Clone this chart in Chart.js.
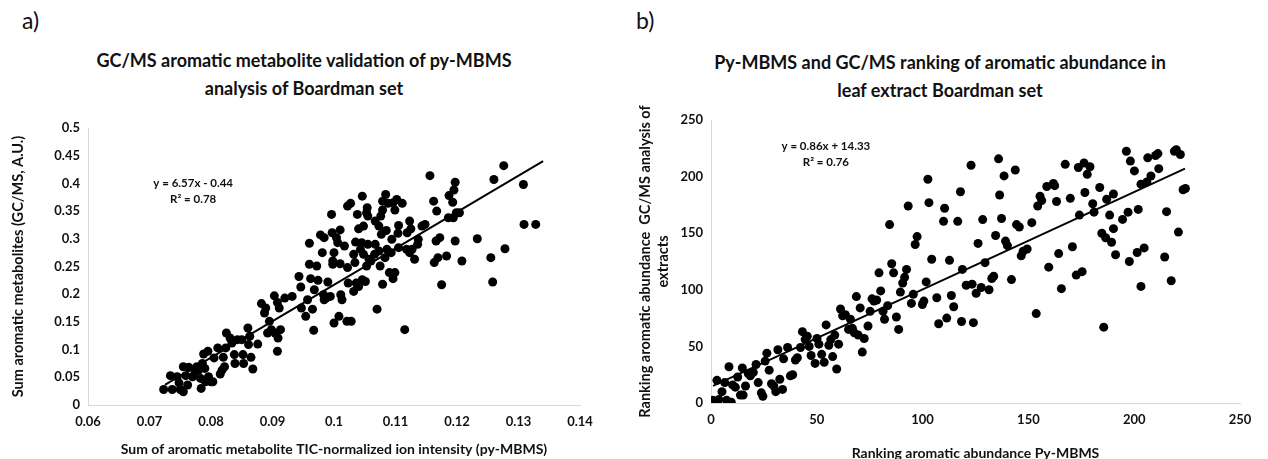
<!DOCTYPE html>
<html>
<head>
<meta charset="utf-8">
<script src="https://cdn.jsdelivr.net/npm/chart.js@4.4.1/dist/chart.umd.min.js"></script>
<style>
  body { margin: 0; background: #fff; width: 1268px; height: 459px; overflow: hidden; position: relative; font-family: Lato, "Open Sans", sans-serif; color: #111; }
  .panel { position: absolute; top: 0; width: 634px; height: 459px; }
  .tag { position: absolute; top: 6px; font-size: 23px; }
  .title { position: absolute; width: 560px; text-align: center; font-weight: bold; font-size: 18px; line-height: 28px; }
</style>
</head>
<body>
<div class="tag" style="left:22px">a)</div>
<div class="tag" style="left:636px">b)</div>
<div class="title" style="left:24px;top:46px">GC/MS aromatic metabolite validation of py-MBMS<br>analysis of Boardman set</div>
<div class="title" style="left:660px;top:48px">Py-MBMS and GC/MS ranking of aromatic abundance in<br>leaf extract Boardman set</div>
<div class="panel" style="left:0"><canvas id="chartA" width="634" height="459"></canvas></div>
<div class="panel" style="left:634px"><canvas id="chartB" width="634" height="459"></canvas></div>
<script>
// a) py-MBMS TIC-normalized sum vs GC/MS sum
const pyMbmsSum = [
  0.0723, 0.0734, 0.0737, 0.0745, 0.0748, 0.0750, 0.0755, 0.0755, 0.0759, 0.0762,
  0.0764, 0.0770, 0.0774, 0.0777, 0.0780, 0.0783, 0.0784, 0.0786, 0.0788, 0.0790,
  0.0791, 0.0795, 0.0796, 0.0800, 0.0803, 0.0805, 0.0811, 0.0815, 0.0818, 0.0820,
  0.0822, 0.0824, 0.0825, 0.0831, 0.0834, 0.0838, 0.0839, 0.0843, 0.0850, 0.0852,
  0.0853, 0.0860, 0.0861, 0.0863, 0.0865, 0.0868, 0.0876, 0.0882, 0.0887, 0.0889,
  0.0892, 0.0895, 0.0898, 0.0903, 0.0904, 0.0908, 0.0909, 0.0908, 0.0911, 0.0913,
  0.0920, 0.0932, 0.0943, 0.0946, 0.0947, 0.0954, 0.0957, 0.0960, 0.0960, 0.0962,
  0.0965, 0.0967, 0.0968, 0.0972, 0.0974, 0.0978, 0.0981, 0.0983, 0.0984, 0.0984,
  0.0987, 0.0990, 0.0994, 0.0997, 0.0998, 0.0998, 0.1000, 0.1000, 0.1004, 0.1006,
  0.1008, 0.1010, 0.1011, 0.1013, 0.1017, 0.1021, 0.1022, 0.1023, 0.1028, 0.1032,
  0.1032, 0.1034, 0.1035, 0.1036, 0.1040, 0.1043, 0.1045, 0.1046, 0.1048, 0.1051,
  0.1053, 0.1055, 0.1057, 0.1060, 0.1066, 0.1070, 0.1067, 0.1073, 0.1075, 0.1077,
  0.1079, 0.1083, 0.1086, 0.1090, 0.1093, 0.1094, 0.1096, 0.1099, 0.1104, 0.1105,
  0.1115, 0.1118, 0.1119, 0.1123, 0.1127, 0.1131, 0.1136, 0.1137, 0.1163, 0.1166,
  0.1169, 0.1172, 0.1175, 0.1183, 0.1197, 0.1208, 0.1233, 0.1255, 0.1258, 0.1278,
  0.0996, 0.1022, 0.1027, 0.1038, 0.1046, 0.1048, 0.1054, 0.1053, 0.1055, 0.1067,
  0.1073, 0.1076, 0.1079, 0.1079, 0.1084, 0.1088, 0.1096, 0.1099, 0.1102, 0.1105,
  0.1111, 0.1123, 0.1156, 0.1162, 0.1167, 0.1186, 0.1187, 0.1195, 0.1197, 0.1193,
  0.1199, 0.1204, 0.1194, 0.1260, 0.1276, 0.1308, 0.1309, 0.1328, 0.1143, 0.1148,
  0.1040, 0.1085, 0.1010, 0.1125
];
const gcmsSum = [
  0.028, 0.053, 0.028, 0.051, 0.040, 0.028, 0.024, 0.069, 0.053, 0.036,
  0.068, 0.051, 0.060, 0.069, 0.063, 0.048, 0.030, 0.075, 0.092, 0.066,
  0.042, 0.097, 0.051, 0.042, 0.042, 0.085, 0.103, 0.056, 0.063, 0.086,
  0.069, 0.103, 0.130, 0.121, 0.112, 0.091, 0.075, 0.118, 0.118, 0.091,
  0.075, 0.139, 0.109, 0.124, 0.086, 0.065, 0.110, 0.183, 0.166, 0.175,
  0.130, 0.151, 0.136, 0.197, 0.130, 0.185, 0.121, 0.097, 0.175, 0.136,
  0.193, 0.196, 0.232, 0.213, 0.175, 0.160, 0.190, 0.292, 0.254, 0.228,
  0.173, 0.135, 0.208, 0.251, 0.225, 0.307, 0.275, 0.199, 0.302, 0.190,
  0.193, 0.222, 0.196, 0.311, 0.260, 0.254, 0.148, 0.275, 0.302, 0.293,
  0.160, 0.255, 0.199, 0.190, 0.287, 0.151, 0.248, 0.220, 0.151, 0.205,
  0.272, 0.257, 0.294, 0.220, 0.214, 0.281, 0.293, 0.226, 0.272, 0.223,
  0.251, 0.290, 0.263, 0.260, 0.272, 0.173, 0.290, 0.278, 0.251, 0.308,
  0.218, 0.266, 0.281, 0.239, 0.275, 0.299, 0.228, 0.239, 0.310, 0.284,
  0.136, 0.281, 0.311, 0.275, 0.281, 0.263, 0.290, 0.299, 0.257, 0.296,
  0.266, 0.302, 0.217, 0.269, 0.296, 0.260, 0.300, 0.266, 0.222, 0.282,
  0.344, 0.359, 0.364, 0.344, 0.377, 0.323, 0.356, 0.347, 0.341, 0.332,
  0.323, 0.341, 0.368, 0.352, 0.380, 0.364, 0.365, 0.352, 0.371, 0.324,
  0.364, 0.332, 0.414, 0.368, 0.350, 0.338, 0.378, 0.388, 0.402, 0.366,
  0.347, 0.347, 0.338, 0.407, 0.432, 0.398, 0.326, 0.326, 0.323, 0.326,
  0.318, 0.315, 0.316, 0.318
];
const trendA = { slope: 6.57, intercept: -0.44, from: 0.0725, to: 0.134 };
const xTicksA = [0.06, 0.07, 0.08, 0.09, 0.1, 0.11, 0.12, 0.13, 0.14];

// b) rankings
const rankPyMbms = [
  0.9, 2.8, 3.7, 5.2, 6.5, 7.4, 8.5, 9.6, 10.2, 11.5,
  12.6, 13.9, 14.8, 15.2, 16.3, 17.6, 18.6, 20, 21.3, 22.3,
  23.8, 24.5, 25.6, 26.4, 27.5, 28.6, 29.7, 30.6, 31.6, 32.5,
  33.8, 34.3, 36.2, 37.5, 38.6, 39.9, 40.8, 42.3, 43.2, 44.5,
  45.5, 46.4, 47.3, 49.2, 50.1, 51, 52.3, 53.5, 54.4, 55.7,
  56.6, 57.5, 58.5, 59.4, 60.3, 61.2, 62.2, 63.5, 65, 65.9,
  66.8, 67.7, 68.7, 69.6, 70.5, 71.5, 72.4, 74.2, 75.2, 76.1,
  77, 78.3, 79.4, 80.2, 81.3, 82, 83.5, 85.4, 86.3, 87.6,
  88.7, 89.5, 90.6, 91.5, 92.4, 94.7, 95.6, 96.5, 97.4, 99.9,
  100.6, 101.7, 104.3, 106.7, 107.6, 111.4, 112.7, 113.6, 114.7, 118.8,
  118.4, 120.6, 123.4, 124, 125.3, 126.2, 127.7, 129.5, 131.4, 132.7,
  133.6, 134.5, 139.2, 140.1, 142, 146.6, 147.5, 149.4, 153.7, 159.6,
  164.3, 165.6, 170.8, 172.6, 175.4, 184.7, 185.6, 186.5, 189.3, 191.2,
  197.7, 201.4, 203.2, 204.7, 214.4, 217.5, 220.9,
  84.4, 93.2, 102.5, 103, 110.4, 109.9, 116.6, 117.9, 122.9, 128.4,
  135.9, 136.4, 137.3, 138.5, 143.8, 144.4, 145.7, 151.6, 154.4, 155.5,
  156.3, 158.7, 161.8, 162.4, 163.3, 167.4, 169.8, 174.1, 173.6, 176.3,
  176.7, 177.8, 179.1, 180.4, 181, 183.7, 187, 188.4, 190.2, 190.2,
  194.5, 196.3, 197.1, 198.2, 200.1, 201.9, 203.2, 206, 206.4, 207.9,
  210.1, 211.2, 211.6, 215.3, 219, 219.9, 221.8, 223.1, 224.2
];
const rankGcms = [
  2.4, 20, 3, 10, 18, 2.4, 32, 0.6, 16, 14,
  23, 7, 31, 7, 15, 26, 24, 27, 34, 18,
  9, 6, 37, 44, 29, 17, 15, 10, 47, 21,
  12, 39, 49, 24, 25, 38, 40, 49, 63, 56,
  59, 50, 42, 35, 57, 52, 43, 36, 69, 51,
  56, 41, 60, 30, 52, 83, 77, 78, 65, 74,
  66, 62, 94, 60, 84, 45, 57, 68, 81, 92,
  90, 91, 115, 99, 81, 74, 86, 123, 115, 76,
  65, 98, 106, 111, 118, 88, 96, 140, 147, 87,
  90, 107, 127, 93, 70, 75, 126, 95, 85, 118,
  72, 104, 105, 71, 97, 141, 102, 124, 100, 110,
  112, 148, 143, 139, 109, 130, 134, 136, 79, 120,
  132, 101, 138, 113, 116, 150, 67, 146, 142, 131,
  125, 133, 103, 137, 129, 108, 151,
  157.6, 174, 197.7, 177, 172, 160.5, 160.5, 186.6, 210, 162,
  215.7, 183.7, 163, 200.6, 205.8, 157.6, 155.5, 159.3, 174, 182.6,
  178.8, 191.3, 194, 192, 178, 210.8, 180.8, 166, 208, 212,
  186, 202, 208.7, 176, 168.6, 190.4, 180, 166, 184.6, 154,
  162.2, 222.4, 168.6, 213.7, 205, 171, 193.3, 195.3, 216.6, 200.5,
  218.6, 220.3, 207, 169, 222.4, 223.8, 219.5, 188.4, 189.5
];
const trendB = { slope: 0.86, intercept: 14.33, from: 1, to: 224 };

const textColor = "#111";
const axisColor = "#d9d9d9";
const fontFamily = "Lato, 'Open Sans', sans-serif";

function points(xs, ys) {
  return xs.map((x, i) => ({ x: x, y: ys[i] }));
}

function trendPoints(t) {
  return [
    { x: t.from, y: t.slope * t.from + t.intercept },
    { x: t.to, y: t.slope * t.to + t.intercept },
  ];
}

// equation + R² label, placed in data coordinates
const equationLabel = {
  id: "equationLabel",
  afterDatasetsDraw(chart, args, opts) {
    const { ctx, scales } = chart;
    const px = scales.x.getPixelForValue(opts.x);
    const py = scales.y.getPixelForValue(opts.y);
    ctx.save();
    ctx.fillStyle = textColor;
    ctx.font = "bold 11.5px " + fontFamily;
    ctx.textAlign = "center";
    ctx.textBaseline = "middle";
    opts.lines.forEach((line, i) => ctx.fillText(line, px, py + i * 16));
    ctx.restore();
  },
};

function makeChart(id, cfg) {
  return new Chart(document.getElementById(id), {
    type: "scatter",
    data: {
      datasets: [
        {
          data: cfg.points,
          backgroundColor: "#000",
          borderWidth: 0,
          pointRadius: 4.5,
          pointHoverRadius: 4.5,
          order: 2,
        },
        {
          type: "line",
          data: cfg.trend,
          borderColor: "#000",
          borderWidth: 2,
          pointRadius: 0,
          fill: false,
          order: 1,
        },
      ],
    },
    options: {
      responsive: false,
      animation: false,
      events: [],
      layout: { padding: cfg.padding },
      plugins: {
        legend: { display: false },
        tooltip: { enabled: false },
        equationLabel: cfg.label,
      },
      scales: {
        x: {
          type: "linear",
          min: cfg.xMin,
          max: cfg.xMax,
          afterBuildTicks: cfg.xTicks ? (s) => { s.ticks = cfg.xTicks.map((v) => ({ value: v })); } : undefined,
          ticks: {
            stepSize: cfg.xStep,
            padding: 9,
            color: textColor,
            font: { family: fontFamily, size: 13, weight: "bold" },
            callback: (v) => String(+v.toFixed(4)),
          },
          grid: { display: false, drawTicks: false },
          border: { display: true, color: axisColor, width: 1 },
          title: {
            display: true,
            text: cfg.xTitle,
            color: textColor,
            font: { family: fontFamily, size: 14, weight: "bold" },
            padding: cfg.xTitlePad,
          },
          afterFit: (s) => { s.height = cfg.xHeight; },
        },
        y: {
          type: "linear",
          min: cfg.yMin,
          max: cfg.yMax,
          ticks: {
            stepSize: cfg.yStep,
            padding: 8,
            color: textColor,
            font: { family: fontFamily, size: 13, weight: "bold" },
            callback: (v) => String(+v.toFixed(4)),
          },
          grid: { display: false, drawTicks: false },
          border: { display: true, color: axisColor, width: 1 },
          title: {
            display: true,
            text: cfg.yTitle,
            color: textColor,
            font: { family: fontFamily, size: 14.5, weight: "bold", lineHeight: 1.25 },
            padding: cfg.yTitlePad,
          },
          afterFit: (s) => { s.width = cfg.yWidth; },
        },
      },
    },
    plugins: [equationLabel],
  });
}

makeChart("chartA", {
  points: points(pyMbmsSum, gcmsSum),
  trend: trendPoints(trendA),
  xMin: 0.06, xMax: 0.14, xStep: 0.01, xTicks: xTicksA,
  yMin: 0, yMax: 0.5, yStep: 0.05,
  xTitle: "Sum of aromatic metabolite TIC-normalized ion intensity (py-MBMS)",
  yTitle: "Sum aromatic metabolites (GC/MS, A.U.)",
  xTitlePad: { top: 0, bottom: 1 },
  yTitlePad: { top: 9, bottom: 0 },
  padding: { left: 0, right: 54, top: 128, bottom: 0 },
  xHeight: 54,
  yWidth: 88,
  label: { x: 0.0771, y: 0.4007, lines: ["y = 6.57x - 0.44", "R² = 0.78"] },
});

makeChart("chartB", {
  points: points(rankPyMbms, rankGcms),
  trend: trendPoints(trendB),
  xMin: 0, xMax: 250, xStep: 50,
  yMin: 0, yMax: 250, yStep: 50,
  xTitle: "Ranking aromatic abundance Py-MBMS",
  yTitle: ["Ranking aromatic abundance  GC/MS analysis of", "extracts"],
  xTitlePad: { top: 0, bottom: -3 },
  yTitlePad: { top: 2, bottom: 0 },
  padding: { left: 0, right: 28, top: 120, bottom: 0 },
  xHeight: 56,
  yWidth: 77,
  label: { x: 54.3, y: 227, lines: ["y = 0.86x + 14.33", "R² = 0.76"] },
});
</script>
</body>
</html>
